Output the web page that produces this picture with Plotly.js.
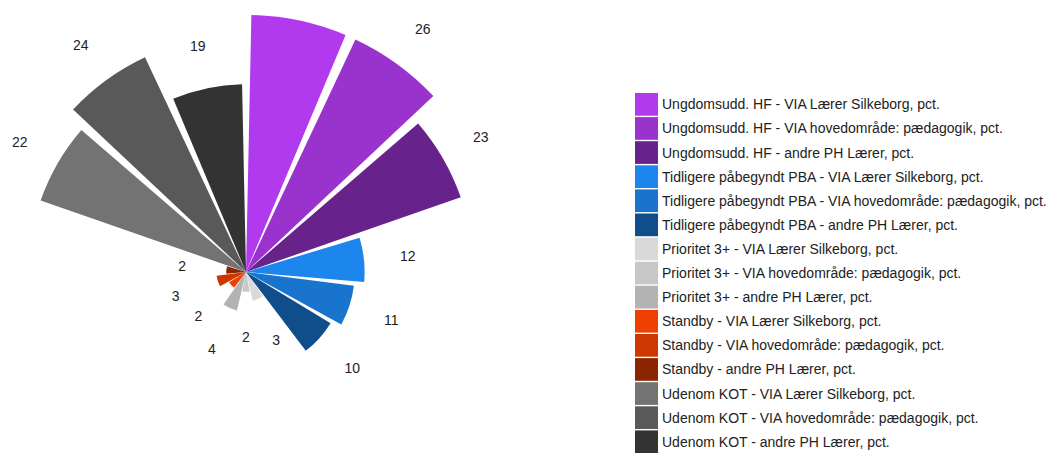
<!DOCTYPE html>
<html><head><meta charset="utf-8">
<script src="https://cdn.plot.ly/plotly-3.0.1.min.js"></script>
<style>
html,body{margin:0;padding:0;overflow:hidden;background:#fff;width:1050px;height:453px}
#chart{position:absolute;left:-70px;top:-40px;width:1120px;height:620px}
</style>
</head><body><div id="chart"></div>
<script>
const categories = [
  "Ungdomsudd. HF - VIA Lærer Silkeborg, pct.",
  "Ungdomsudd. HF - VIA hovedområde: pædagogik, pct.",
  "Ungdomsudd. HF - andre PH Lærer, pct.",
  "Tidligere påbegyndt PBA - VIA Lærer Silkeborg, pct.",
  "Tidligere påbegyndt PBA - VIA hovedområde: pædagogik, pct.",
  "Tidligere påbegyndt PBA - andre PH Lærer, pct.",
  "Prioritet 3+ - VIA Lærer Silkeborg, pct.",
  "Prioritet 3+ - VIA hovedområde: pædagogik, pct.",
  "Prioritet 3+ - andre PH Lærer, pct.",
  "Standby - VIA Lærer Silkeborg, pct.",
  "Standby - VIA hovedområde: pædagogik, pct.",
  "Standby - andre PH Lærer, pct.",
  "Udenom KOT - VIA Lærer Silkeborg, pct.",
  "Udenom KOT - VIA hovedområde: pædagogik, pct.",
  "Udenom KOT - andre PH Lærer, pct."
];
const values = [26, 26, 23, 12, 11, 10, 3, 2, 4, 2, 3, 2, 22, 24, 19];
const valueLabels = ["26", "26", "23", "12", "11", "10", "3", "2", "4", "2", "3", "2", "22", "24", "19"];
const colors = [
  "#B23AEE", "#9A32CD", "#68228B",
  "#1C86EE", "#1874CD", "#104E8B",
  "#D9D9D9", "#C7C7C7", "#B3B3B3",
  "#EE4000", "#CD3700", "#8B2500",
  "#737373", "#595959", "#333333"
];

// figure geometry: the figure is shifted left/up relative to the viewport
const SX = 70, SY = 40;
const W = 1050 + SX, H = 620;
const RMAX = 31;
const pxPerUnit = 257 / 26;
const cx = 246 + SX, cy = 272 + SY, R = RMAX * pxPerUnit;
const LABEL_DY = 3; // value labels sit a little lower than the bar centre
const FONT = "Liberation Sans, Arial, sans-serif";

const traces = categories.map((c, i) => ({
  type: "barpolar",
  name: c,
  theta: [c],
  r: [values[i]],
  marker: {color: colors[i], line: {width: 0}},
  showlegend: false,
  hoverinfo: "name+r"
}));

traces.push({
  type: "scatterpolar",
  subplot: "polar2",
  mode: "text",
  theta: categories,
  r: values.map(v => v + 4.5),
  text: valueLabels,
  textfont: {family: FONT, size: 14, color: "#222"},
  textposition: "middle center",
  cliponaxis: false,
  showlegend: false,
  hoverinfo: "skip"
});

const shapes = [], annotations = [];
const top0 = 93.0 + SY, pitch = 24.1, sw = 22.7;
const sx0 = 635 + SX, sx1 = 658 + SX, tx = 660 + SX;
categories.forEach((c, i) => {
  const y0 = top0 + i * pitch, y1 = y0 + sw;
  shapes.push({
    type: "rect", xref: "paper", yref: "paper",
    x0: sx0 / W, x1: sx1 / W, y0: 1 - y1 / H, y1: 1 - y0 / H,
    fillcolor: colors[i], line: {width: 0}
  });
  annotations.push({
    xref: "paper", yref: "paper", x: tx / W, y: 1 - (y0 + sw / 2) / H,
    xanchor: "left", yanchor: "middle", showarrow: false,
    text: c, font: {family: FONT, size: 14, color: "#222"}
  });
});

function polarSpec(dy) {
  return {
    domain: {x: [(cx - R) / W, (cx + R) / W], y: [1 - (cy + dy + R) / H, 1 - (cy + dy - R) / H]},
    bgcolor: "rgba(0,0,0,0)",
    bargap: 0.1,
    radialaxis: {range: [0, RMAX], visible: false},
    angularaxis: {
      type: "category", categoryarray: categories, direction: "clockwise",
      rotation: 78, visible: false
    }
  };
}

const layout = {
  width: W, height: H,
  margin: {l: 0, r: 0, t: 0, b: 0, pad: 0},
  paper_bgcolor: "#fff",
  showlegend: false,
  font: {family: FONT},
  polar: polarSpec(0),
  polar2: polarSpec(LABEL_DY),
  shapes: shapes,
  annotations: annotations
};

Plotly.newPlot("chart", traces, layout, {displayModeBar: false, staticPlot: true});
</script>
</body></html>
